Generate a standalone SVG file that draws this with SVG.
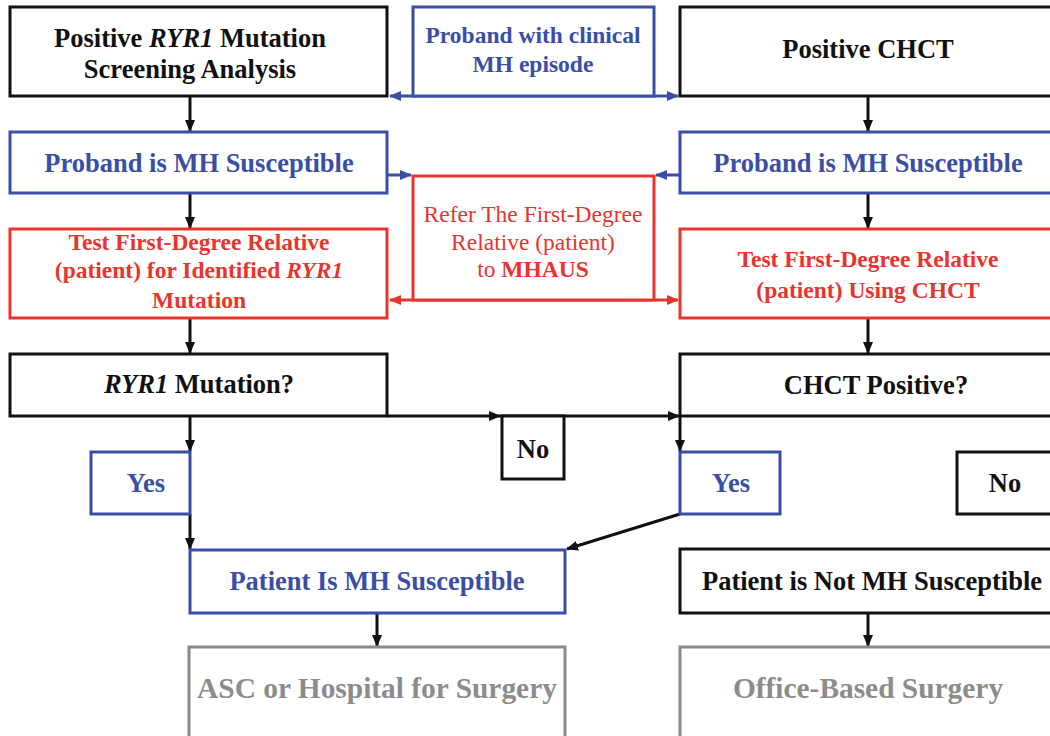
<svg xmlns="http://www.w3.org/2000/svg" width="1050" height="736" viewBox="0 0 1050 736">
<style>
.bk{fill:#fff;stroke:#111;stroke-width:3}
.bl{fill:#fff;stroke:#3a4ea6;stroke-width:3}
.rd{fill:#fff;stroke:#e8342e;stroke-width:3}
.gy{fill:#fff;stroke:#8a8a8a;stroke-width:3}
text{font-family:"Liberation Serif","Times New Roman",serif;font-weight:bold;text-anchor:middle}
.tb{fill:#111;font-size:26.5px}
.tbl{fill:#3a4ea6;font-size:26.5px}
.tbls{fill:#3a4ea6;font-size:23.5px}
.trs{fill:#e8342e;font-size:23.5px}
.trn{fill:#e8342e;font-size:23.5px;font-weight:normal}
.tg{fill:#8c8c8c;font-size:29.4px}
.ck{fill:none;stroke:#111;stroke-width:3}
.cb{fill:none;stroke:#3a4ea6;stroke-width:3}
.cr{fill:none;stroke:#e8342e;stroke-width:3}
</style>
<defs>
<marker id="ak" markerUnits="userSpaceOnUse" markerWidth="12" markerHeight="10" refX="11" refY="5" orient="auto"><path d="M0,0 L12,5 L0,10 z" fill="#111"/></marker>
<marker id="ab" markerUnits="userSpaceOnUse" markerWidth="12" markerHeight="10" refX="11" refY="5" orient="auto-start-reverse"><path d="M0,0 L12,5 L0,10 z" fill="#3a4ea6"/></marker>
<marker id="ar" markerUnits="userSpaceOnUse" markerWidth="12" markerHeight="10" refX="11" refY="5" orient="auto-start-reverse"><path d="M0,0 L12,5 L0,10 z" fill="#e8342e"/></marker>
</defs>
<rect width="1050" height="736" fill="#fff"/>

<g id="connectors">
<line class="ck" x1="190" y1="97" x2="190" y2="131" marker-end="url(#ak)"/>
<line class="ck" x1="868" y1="97" x2="868" y2="131" marker-end="url(#ak)"/>
<line class="ck" x1="190" y1="194" x2="190" y2="228" marker-end="url(#ak)"/>
<line class="ck" x1="868" y1="194" x2="868" y2="228" marker-end="url(#ak)"/>
<line class="ck" x1="190" y1="319" x2="190" y2="353" marker-end="url(#ak)"/>
<line class="ck" x1="868" y1="319" x2="868" y2="353" marker-end="url(#ak)"/>
<line class="cb" x1="390" y1="96" x2="678" y2="96" marker-start="url(#ab)" marker-end="url(#ab)"/>
<line class="cb" x1="388" y1="175" x2="411" y2="175" marker-end="url(#ab)"/>
<line class="cb" x1="679" y1="175" x2="656" y2="175" marker-end="url(#ab)"/>
<line class="cr" x1="390" y1="300" x2="678" y2="300" marker-start="url(#ar)" marker-end="url(#ar)"/>
<line class="ck" x1="387" y1="416" x2="500" y2="416" marker-end="url(#ak)"/>
<line class="ck" x1="500" y1="416" x2="679" y2="416" marker-end="url(#ak)"/>
<line class="ck" x1="190" y1="417" x2="190" y2="451" marker-end="url(#ak)"/>
<line class="ck" x1="190" y1="514" x2="190" y2="549" marker-end="url(#ak)"/>
<line class="ck" x1="680" y1="417" x2="680" y2="451" marker-end="url(#ak)"/>
<line class="ck" x1="680" y1="514" x2="567" y2="549" marker-end="url(#ak)"/>
<line class="ck" x1="377" y1="614" x2="377" y2="646" marker-end="url(#ak)"/>
<line class="ck" x1="868" y1="614" x2="868" y2="646" marker-end="url(#ak)"/>
</g>

<g id="n-ryr1-screen"><rect class="bk" x="10" y="7" width="377" height="89"/>
<text class="tb" x="190" y="47">Positive <tspan font-style="italic">RYR1</tspan> Mutation</text>
<text class="tb" x="190" y="78">Screening Analysis</text></g>

<g id="n-proband-clinical"><rect class="bl" x="413" y="7" width="241" height="89"/>
<text class="tbls" x="533" y="43">Proband with clinical</text>
<text class="tbls" x="533" y="72">MH episode</text></g>

<g id="n-positive-chct"><rect class="bk" x="680" y="7" width="377" height="89"/>
<text class="tb" x="868" y="58">Positive CHCT</text></g>

<g id="n-proband-left"><rect class="bl" x="10" y="132" width="377" height="61"/>
<text class="tbl" x="199" y="172">Proband is MH Susceptible</text></g>

<g id="n-proband-right"><rect class="bl" x="680" y="132" width="377" height="61"/>
<text class="tbl" x="868" y="172">Proband is MH Susceptible</text></g>

<g id="n-refer"><rect class="rd" x="413" y="176" width="241" height="124"/>
<text class="trn" x="533" y="222">Refer The First-Degree</text>
<text class="trn" x="533" y="250">Relative (patient)</text>
<text class="trn" x="533" y="277">to <tspan font-weight="bold">MHAUS</tspan></text></g>

<g id="n-test-left"><rect class="rd" x="10" y="229" width="377" height="89"/>
<text class="trs" x="199" y="250">Test First-Degree Relative</text>
<text class="trs" x="199" y="278">(patient) for Identified <tspan font-style="italic">RYR1</tspan></text>
<text class="trs" x="199" y="308">Mutation</text></g>

<g id="n-test-right"><rect class="rd" x="680" y="229" width="377" height="89"/>
<text class="trs" x="868" y="267">Test First-Degree Relative</text>
<text class="trs" x="868" y="298">(patient) Using CHCT</text></g>

<g id="n-ryr1-q"><rect class="bk" x="10" y="354" width="377" height="62"/>
<text class="tb" x="199" y="393"><tspan font-style="italic">RYR1</tspan> Mutation?</text></g>

<g id="n-chct-q"><rect class="bk" x="680" y="354" width="390" height="62"/>
<text class="tb" x="876" y="394">CHCT Positive?</text></g>

<g id="n-no-left"><rect class="bk" x="502" y="416" width="62" height="63"/>
<text class="tb" x="533" y="458">No</text></g>

<g id="n-yes-left"><rect class="bl" x="91" y="452" width="99" height="62"/>
<text class="tbl" x="146" y="492">Yes</text></g>

<g id="n-yes-right"><rect class="bl" x="680" y="452" width="100" height="62"/>
<text class="tbl" x="731" y="492">Yes</text></g>

<g id="n-no-right"><rect class="bk" x="957" y="452" width="120" height="62"/>
<text class="tb" x="1005" y="492">No</text></g>

<g id="n-patient-mhs"><rect class="bl" x="190" y="550" width="375" height="63"/>
<text class="tbl" x="377" y="590">Patient Is MH Susceptible</text></g>

<g id="n-patient-not"><rect class="bk" x="680" y="549" width="390" height="64"/>
<text class="tb" x="872" y="590">Patient is Not MH Susceptible</text></g>

<g id="n-asc"><rect class="gy" x="189" y="647" width="376" height="100"/>
<text class="tg" x="377" y="698">ASC or Hospital for Surgery</text></g>

<g id="n-office"><rect class="gy" x="680" y="647" width="390" height="100"/>
<text class="tg" x="868" y="698">Office-Based Surgery</text></g>
</svg>
